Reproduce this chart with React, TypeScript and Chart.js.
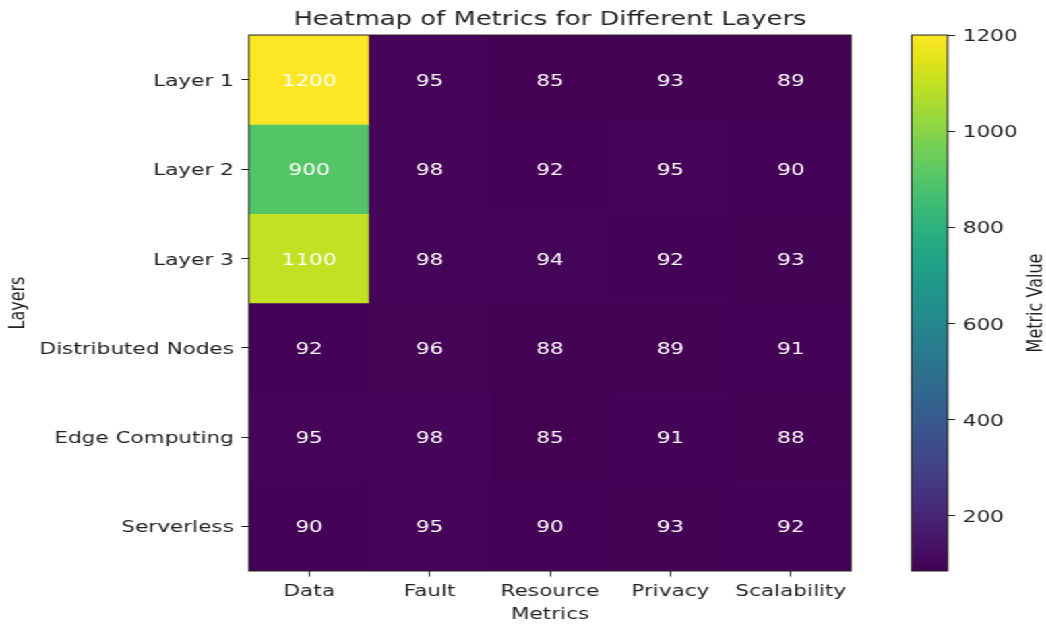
import { useEffect, useRef } from 'react';
import { Chart, registerables } from 'chart.js';

Chart.register(...registerables);

const metrics = ['Data', 'Fault', 'Resource', 'Privacy', 'Scalability'];
const layers = ['Layer 1', 'Layer 2', 'Layer 3', 'Distributed Nodes', 'Edge Computing', 'Serverless'];

const layer1Values = [1200, 95, 85, 93, 89];
const layer2Values = [900, 98, 92, 95, 90];
const layer3Values = [1100, 98, 94, 92, 93];
const distributedNodesValues = [92, 96, 88, 89, 91];
const edgeComputingValues = [95, 98, 85, 91, 88];
const serverlessValues = [90, 95, 90, 93, 92];

const rowValues = [
  layer1Values,
  layer2Values,
  layer3Values,
  distributedNodesValues,
  edgeComputingValues,
  serverlessValues,
];

const colorbarTicks = [200, 400, 600, 800, 1000, 1200];
const colorMin = 85;
const colorMax = 1200;

const viridisStops = [
  '#440154', '#471365', '#482475', '#463480', '#414487', '#3b528b', '#355f8d',
  '#2f6c8e', '#2a788e', '#25848e', '#21918c', '#1e9c89', '#22a884', '#2fb47c',
  '#44bf70', '#5ec962', '#7ad151', '#9bd93c', '#bddf26', '#dfe318', '#fde725',
];

const FONT = 'DejaVu Sans';
const TEXT = '#222';
const SX = 1.348;
const W = 776;
const H = 624;

function hexToRgb(h: string) {
  return [parseInt(h.slice(1, 3), 16), parseInt(h.slice(3, 5), 16), parseInt(h.slice(5, 7), 16)];
}

function viridis(v: number) {
  let t = (v - colorMin) / (colorMax - colorMin);
  t = Math.max(0, Math.min(1, t));
  const pos = t * (viridisStops.length - 1);
  const i = Math.min(Math.floor(pos), viridisStops.length - 2);
  const f = pos - i;
  const a = hexToRgb(viridisStops[i]);
  const b = hexToRgb(viridisStops[i + 1]);
  const c = a.map((x, k) => Math.round(x + (b[k] - x) * f));
  return `rgb(${c[0]},${c[1]},${c[2]})`;
}

const annotatePlugin = {
  id: 'annotate',
  afterDatasetsDraw(chart: any) {
    const ctx = chart.ctx;
    ctx.save();
    ctx.fillStyle = '#ffffff';
    ctx.font = `16px "${FONT}"`;
    ctx.textAlign = 'center';
    ctx.textBaseline = 'middle';
    chart.data.datasets.forEach((ds: any, di: number) => {
      const meta = chart.getDatasetMeta(di);
      meta.data.forEach((el: any, j: number) => {
        const cy = (el.y + el.base) / 2 + 2;
        ctx.fillText(String(rowValues[di][j]), el.x, cy);
      });
    });
    ctx.restore();
  },
  afterDraw(chart: any) {
    const { left, top, right, bottom } = chart.chartArea;
    const ctx = chart.ctx;
    ctx.save();
    ctx.strokeStyle = '#222';
    ctx.lineWidth = 1;
    ctx.strokeRect(left, top, right - left, bottom - top);
    ctx.restore();
  },
};

const colorbarPlugin = {
  id: 'colorbar',
  beforeDatasetsDraw(chart: any) {
    const { left, top, right, bottom } = chart.chartArea;
    const ctx = chart.ctx;
    const g = ctx.createLinearGradient(0, bottom, 0, top);
    viridisStops.forEach((c, i) => g.addColorStop(i / (viridisStops.length - 1), c));
    ctx.save();
    ctx.fillStyle = g;
    ctx.fillRect(left, top, right - left, bottom - top);
    ctx.restore();
  },
  afterDraw(chart: any) {
    const { left, top, right, bottom } = chart.chartArea;
    const ctx = chart.ctx;
    ctx.save();
    ctx.strokeStyle = '#222';
    ctx.lineWidth = 1;
    ctx.strokeRect(left, top, right - left, bottom - top);
    ctx.translate(768.5, (top + bottom) / 2);
    ctx.rotate(-Math.PI / 2);
    ctx.fillStyle = TEXT;
    ctx.font = `16px "${FONT}"`;
    ctx.textAlign = 'center';
    ctx.textBaseline = 'middle';
    ctx.fillText('Metric Value', 0, 0);
    ctx.restore();
  },
};

export default function App() {
  const mainRef = useRef<HTMLCanvasElement>(null);
  const cbRef = useRef<HTMLCanvasElement>(null);

  useEffect(() => {
    const font = { family: FONT, size: 16 };
    const main = new Chart(mainRef.current!, {
      type: 'bar',
      data: {
        labels: metrics,
        datasets: rowValues.map((vals, i) => ({
          label: layers[i],
          data: vals.map(() => [i - 0.5, i + 0.5]),
          backgroundColor: vals.map((v) => viridis(v)),
          borderWidth: 0,
          barPercentage: 1,
          categoryPercentage: 1,
          grouped: false,
        })) as any,
      },
      options: {
        animation: false,
        responsive: false,
        devicePixelRatio: 1,
        events: [],
        layout: { padding: { left: 0, right: 144.7, top: 0, bottom: 0 } },
        plugins: {
          legend: { display: false },
          tooltip: { enabled: false },
          title: {
            display: true,
            text: 'Heatmap of Metrics for Different Layers',
            fullSize: false,
            color: TEXT,
            font: { family: FONT, size: 19.2, weight: 'normal' },
            padding: { top: 8.5, bottom: 3.5 },
          },
        },
        scales: {
          x: {
            type: 'category',
            offset: true,
            grid: {
              display: true,
              drawOnChartArea: false,
              drawTicks: true,
              tickLength: 5.6,
              offset: false,
              color: '#222',
            },
            border: { display: false },
            ticks: { color: TEXT, font, padding: 6, maxRotation: 0, autoSkip: false },
            title: { display: true, text: 'Metrics', color: TEXT, font, padding: { top: 0, bottom: -0.4 } },
            afterFit: (s: any) => {
              s.height = 53;
            },
          },
          y: {
            type: 'linear',
            reverse: true,
            min: -0.5,
            max: 5.5,
            afterBuildTicks: (s: any) => {
              s.ticks = layers.map((_, i) => ({ value: i }));
            },
            grid: {
              display: true,
              drawOnChartArea: false,
              drawTicks: true,
              tickLength: 5.6,
              color: '#222',
            },
            border: { display: false },
            ticks: {
              color: TEXT,
              font,
              padding: 5.6,
              labelOffset: 2,
              callback: (v: any) => layers[v as number] ?? '',
            },
            title: { display: true, text: 'Layers', color: TEXT, font, padding: { top: 4.5, bottom: 0 } },
            afterFit: (s: any) => {
              s.width = 184.7;
            },
          },
        },
      } as any,
      plugins: [annotatePlugin],
    });

    const cb = new Chart(cbRef.current!, {
      type: 'scatter',
      data: { datasets: [] },
      options: {
        animation: false,
        responsive: false,
        devicePixelRatio: 1,
        events: [],
        layout: { padding: { left: 676.3, right: 0, top: 35.04, bottom: 53 } },
        plugins: { legend: { display: false }, tooltip: { enabled: false } },
        scales: {
          x: { display: false },
          y: {
            type: 'linear',
            position: 'right',
            min: colorMin,
            max: colorMax,
            afterBuildTicks: (s: any) => {
              s.ticks = colorbarTicks.map((v) => ({ value: v }));
            },
            grid: {
              display: true,
              drawOnChartArea: false,
              drawTicks: true,
              tickLength: 5.6,
              color: '#222',
            },
            border: { display: false },
            ticks: { color: TEXT, font, padding: 5.6, labelOffset: 2, callback: (v: any) => String(v) },
            afterFit: (s: any) => {
              s.width = 73;
            },
          },
        },
      } as any,
      plugins: [colorbarPlugin],
    });

    return () => {
      main.destroy();
      cb.destroy();
    };
  }, []);

  return (
    <div
      style={{
        position: 'absolute',
        left: 0,
        top: 0,
        width: W,
        height: H,
        transform: `scaleX(${SX})`,
        transformOrigin: '0 0',
        background: '#fff',
      }}
    >
      <canvas ref={mainRef} width={W} height={H} style={{ position: 'absolute', left: 0, top: 0 }} />
      <canvas ref={cbRef} width={W} height={H} style={{ position: 'absolute', left: 0, top: 0 }} />
    </div>
  );
}
